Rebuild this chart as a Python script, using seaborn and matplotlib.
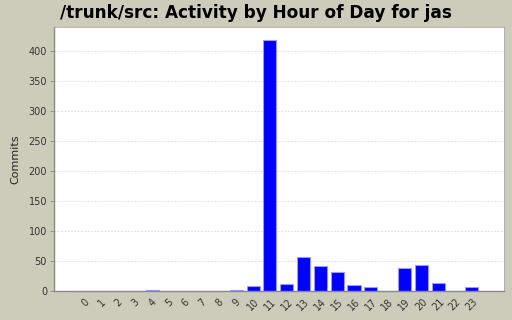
import matplotlib
matplotlib.use("Agg")
import matplotlib.pyplot as plt
import seaborn as sns
import pandas as pd

hours = [str(h) for h in range(24)]
commits = [0, 0, 0, 0, 2, 0, 0, 0, 0, 2, 8, 418, 12, 57, 42, 32, 10, 6, 0, 39, 43, 14, 0, 6]
yticks = [0, 50, 100, 150, 200, 250, 300, 350, 400]

sns.set_theme(style="white")
plt.rcParams['font.family'] = ['DejaVu Sans']

bg = "#CCCCBB"
fig = plt.figure(figsize=(5.12, 3.2), dpi=100, facecolor=bg)
ax = fig.add_axes([54/512, 1-291/320, 450/512, 264/320])
ax.set_facecolor("white")

df = pd.DataFrame({"hour": hours, "commits": commits})
sns.barplot(data=df, x="hour", y="commits", order=hours, color="#0000FF",
            saturation=1, edgecolor="#9999FF", linewidth=0.8, width=0.78, ax=ax)

ax.set_xlim(-1.84, 24.92)
ax.set_ylim(0, 440)
ax.set_yticks(yticks)
ax.set_yticklabels([str(v) for v in yticks], fontsize=7, color="#333333")
ax.set_xticks(range(24))
ax.set_xticklabels(hours, rotation=45, fontsize=7, color="#333333", ha="center")
ax.tick_params(axis="x", length=0, pad=4)
ax.tick_params(axis="y", length=3, width=0.6, color="#888888", pad=2, left=True)
ax.set_xlabel("")
ax.set_ylabel("Commits", fontsize=8, color="#222222", labelpad=6)
ax.grid(axis="y", color="#D8D8D8", linestyle=(0, (2, 2)), linewidth=0.6)
ax.set_axisbelow(True)
for s in ["left", "bottom"]:
    ax.spines[s].set_color("#888888")
    ax.spines[s].set_linewidth(1)
for s in ["top", "right"]:
    ax.spines[s].set_color("#AAAAAA")
    ax.spines[s].set_linewidth(0.6)

fig.text(0.5, 1-13/320, "/trunk/src: Activity by Hour of Day for jas", ha="center", va="center",
         fontsize=12.2, fontweight="bold", color="#000000")

fig.savefig("out.png", dpi=100, facecolor=bg)
